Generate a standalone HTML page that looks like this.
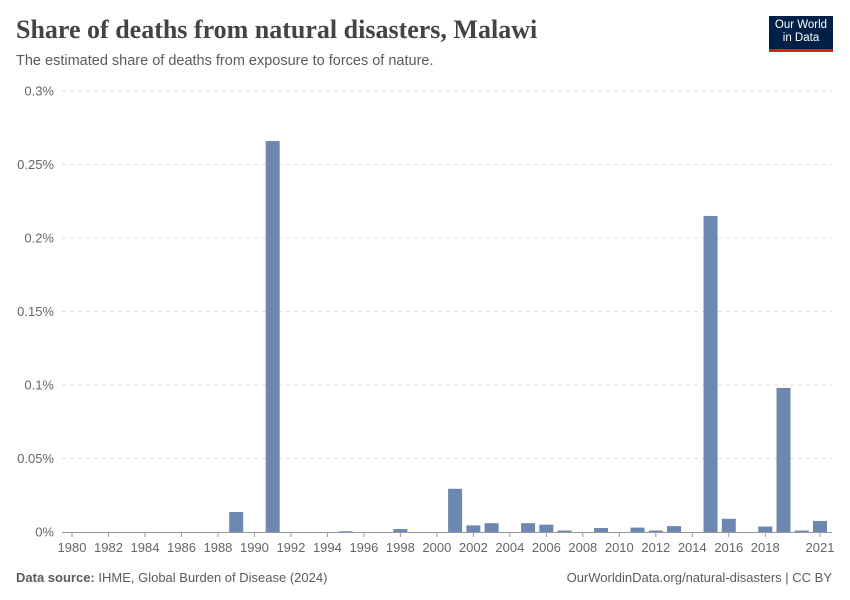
<!DOCTYPE html>
<html><head><meta charset="utf-8"><style>
body{margin:0;background:#fff;font-family:"Liberation Sans",sans-serif;}
#wrap{position:relative;width:850px;height:600px;overflow:hidden;}
.t{position:absolute;white-space:nowrap;}
</style></head><body>
<div id="wrap">
<div class="t" style="left:16px;top:15px;font-family:'Liberation Serif',serif;font-size:26px;font-weight:bold;color:#444;">Share of deaths from natural disasters, Malawi</div>
<div class="t" style="left:16px;top:53px;font-size:14.5px;color:#5b5b5b;">The estimated share of deaths from exposure to forces of nature.</div>
<div style="position:absolute;left:769px;top:16px;width:64px;height:36px;background:#002147;border-bottom:3px solid #ce261e;color:#fff;font-size:11.5px;line-height:13px;text-align:center;padding-top:3px;box-sizing:border-box;">Our World<br>in Data</div>
<svg id="svg" width="850" height="600" style="position:absolute;left:0;top:0"></svg>
<div class="t" style="left:16px;top:570px;font-size:13px;color:#5b5b5b;"><b>Data source:</b> IHME, Global Burden of Disease (2024)</div>
<div class="t" style="right:18px;top:570px;font-size:13px;color:#5b5b5b;">OurWorldinData.org/natural-disasters | CC BY</div>
</div>
<script>
const years=[1980,1981,1982,1983,1984,1985,1986,1987,1988,1989,1990,1991,1992,1993,1994,1995,1996,1997,1998,1999,2000,2001,2002,2003,2004,2005,2006,2007,2008,2009,2010,2011,2012,2013,2014,2015,2016,2017,2018,2019,2020,2021];
const values=[0,0,0,0,0,0,0,0,0,0.0136,0,0.266,0,0,0,0.0005,0,0,0.002,0,0,0.0294,0.0045,0.006,0,0.006,0.005,0.001,0,0.0027,0,0.003,0.001,0.004,0,0.215,0.009,0,0.0037,0.098,0.001,0.0075];
const yTicks=[0,0.05,0.1,0.15,0.2,0.25,0.3];
const yTickLabels=["0%","0.05%","0.1%","0.15%","0.2%","0.25%","0.3%"];
const xTickYears=[1980,1982,1984,1986,1988,1990,1992,1994,1996,1998,2000,2002,2004,2006,2008,2010,2012,2014,2016,2018,2021];
const svg=document.getElementById('svg');const NS='http://www.w3.org/2000/svg';
const x0=72,step=(820-72)/41,yb=532,yt=91,ymax=0.3;
const X=y=>x0+(y-1980)*step;
const Y=v=>yb-(v/ymax)*(yb-yt);
function mk(t,a){const e=document.createElementNS(NS,t);for(const k in a)e.setAttribute(k,a[k]);svg.appendChild(e);return e;}
yTicks.forEach((v,i)=>{
 if(v>0){const g=mk('line',{x1:62,x2:832,y1:Y(v),y2:Y(v),stroke:'#ddd','stroke-dasharray':'4,4'});
 
 }
 const t=mk('text',{x:54,y:Y(v)+4.5,'text-anchor':'end','font-size':13,fill:'#666','font-family':'Liberation Sans, sans-serif'});t.textContent=yTickLabels[i];
 
 
});
years.forEach((yr,i)=>{
 const v=values[i];if(v<=0)return;
 const r=mk('rect',{x:X(yr)-7,y:Y(v),width:14,height:yb-Y(v),fill:'#6d87b0'});
 
 
});
const ax=mk('line',{x1:62,x2:832,y1:yb+0.5,y2:yb+0.5,stroke:'#999'});


xTickYears.forEach(yr=>{
 const tk=mk('line',{x1:X(yr),x2:X(yr),y1:yb,y2:yb+5,stroke:'#999'});
 
 
 const t=mk('text',{x:X(yr),y:yb+20,'text-anchor':'middle','font-size':13,fill:'#666','font-family':'Liberation Sans, sans-serif'});t.textContent=yr;
 
 
});
</script>
</body></html>
